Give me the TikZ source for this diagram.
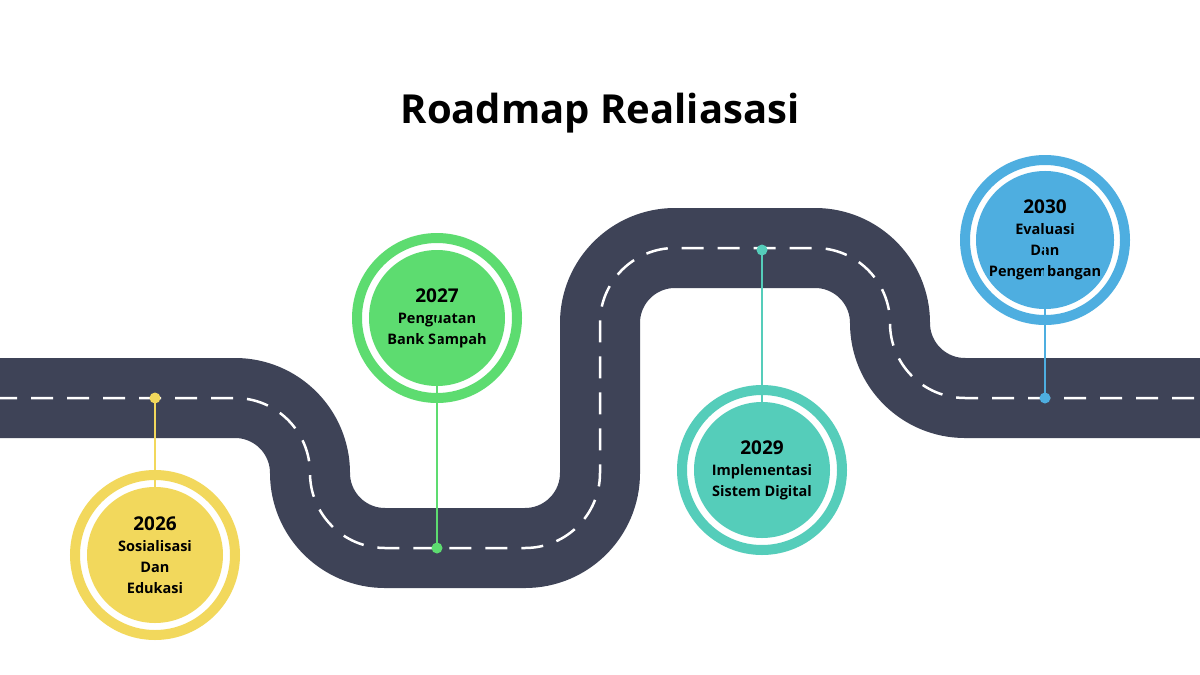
\documentclass[tikz,border=0pt]{standalone}
\usepackage{fontspec}
\setmainfont{Open Sans}
\usepackage{tikz}

\definecolor{roadgray}{HTML}{3E4357}
\definecolor{cyellow}{HTML}{F2D85C}
\definecolor{cgreen}{HTML}{5DDC70}
\definecolor{cteal}{HTML}{55CDBA}
\definecolor{cblue}{HTML}{4EAEE0}

\tikzset{
  milestone/.style = {circle, minimum size = 136pt, inner sep = 0pt, fill = #1,
                      align = center, font = \bfseries\fontsize{14.5}{21}\selectfont},
  ring/.style = {draw = #1, line width = 10pt},
  stem/.style = {draw = #1, line width = 1.5pt},
  dot/.style = {circle, fill = #1, minimum size = 11pt, inner sep = 0pt}
}

\begin{document}
\begin{tikzpicture}[x = 1pt, y = -1pt]

            \useasboundingbox (0,0) rectangle (1200,675);
            \fill [white] (0,0) rectangle (1200,675);
            \node [font = \bfseries\fontsize{40}{46}\selectfont] (title) at (600,113) {Roadmap Realiasasi};

            % road
            \draw [roadgray, line width = 80pt, rounded corners = 75pt]
              (-10,398) -- (310,398) -- (310,548) -- (600,548) -- (600,248) -- (890,248) -- (890,398) -- (1210,398);
            \draw [white, line width = 2.5pt, dash pattern = on 22pt off 14pt, rounded corners = 75pt]
              (-5,398) -- (310,398) -- (310,548) -- (600,548) -- (600,248) -- (890,248) -- (890,398) -- (1210,398);

            % milestones
            \foreach \name/\x/\y/\col/\cx/\cy/\txt in {
                a/155/398/cyellow/155/555/{{\fontsize{19}{24}\selectfont 2026}\\Sosialisasi\\Dan\\Edukasi},
                b/437/548/cgreen/437/318/{{\fontsize{19}{24}\selectfont 2027}\\Penguatan\\Bank Sampah},
                c/762/250/cteal/762/470/{{\fontsize{19}{24}\selectfont 2029}\\Implementasi\\Sistem Digital},
                d/1045/398/cblue/1045/240/{{\fontsize{19}{24}\selectfont 2030}\\Evaluasi\\Dan\\Pengembangan}} {
              \draw [ring = \col] (\cx,\cy) circle (80pt);
              \node [milestone = \col] (\name) at (\cx,\cy) {\txt};
              \node [dot = \col] (\name dot) at (\x,\y) {};
              \draw [stem = \col] (\name dot) -- ++(0,0) |- (\name);
            }
            \end{tikzpicture}
\end{document}
